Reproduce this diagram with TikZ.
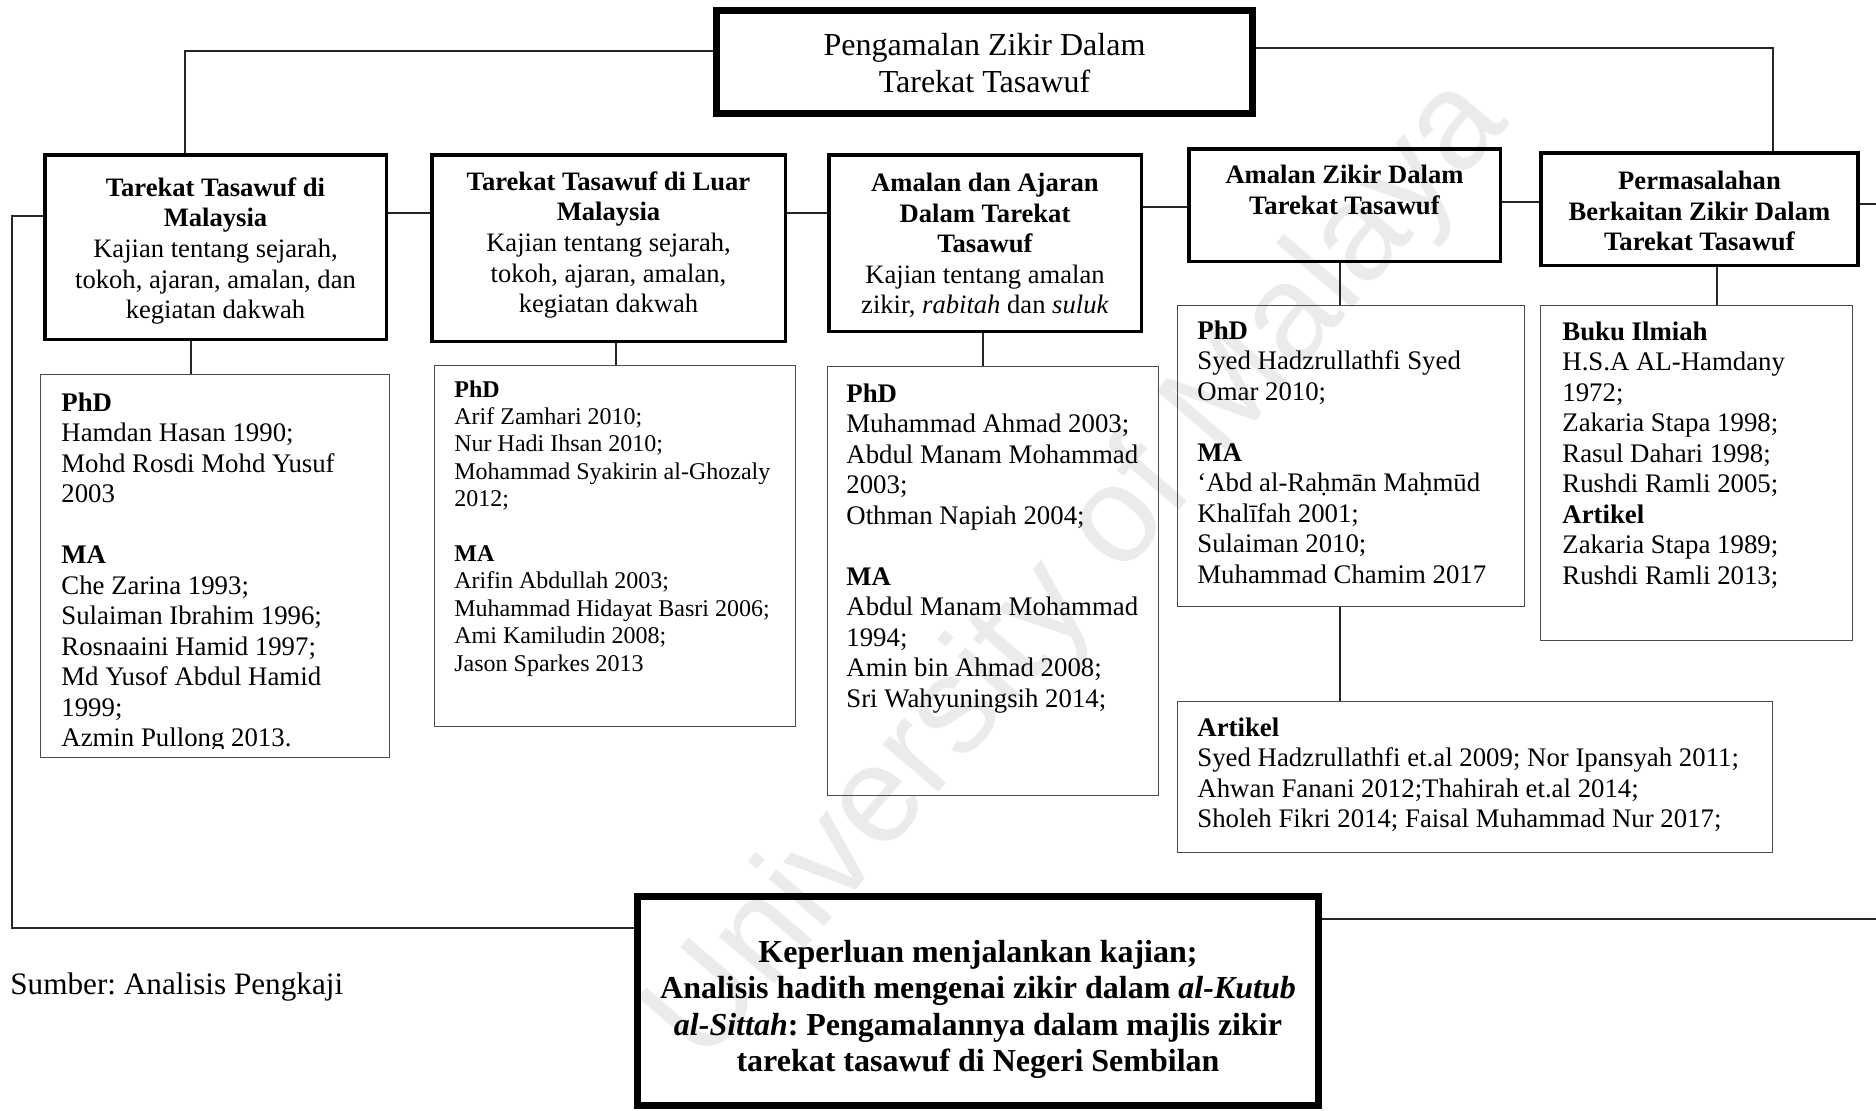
\documentclass[tikz,border=0pt]{standalone}
\usepackage{fontspec}
\setmainfont{Liberation Serif}
\newfontfamily\wmfont{Liberation Sans}
\frenchspacing
\begin{document}
\begin{tikzpicture}[x=0.5pt,y=-0.5pt,
  conn/.style={draw=black!85, line width=0.8pt},
  mainbox/.style={draw=black, line width=3.5pt, inner sep=0pt},
  lvlbox/.style={draw=black, line width=1.75pt, inner sep=0pt},
  lvltext/.style={align=center, inner sep=0pt, font=\fontsize{13.3}{15.3}\selectfont},
  refbox/.style={draw=black!70, line width=0.75pt, inner sep=0pt},
  reftext/.style={anchor=north west, align=left, inner sep=0pt,
    font=\fontsize{13.4}{15.25}\selectfont},
  smalltext/.style={reftext, font=\fontsize{12}{13.7}\selectfont},
  bigtext/.style={align=center, inner sep=0pt, font=\fontsize{16}{18.2}\selectfont}]
\useasboundingbox (0,0) rectangle (1876,1110);

% faint watermark lettering behind the chart
\node[font=\wmfont\fontsize{69}{69}\selectfont, text=black!8, rotate=49.5, inner sep=0pt]
  (wm) at (1080,572) {University of Malaya};

% title box
\node[mainbox, minimum width=268pt, minimum height=51.5pt] (tb) at (984.5,62) {};
\node[bigtext] (tbt) at (984.5,63) {Pengamalan Zikir Dalam\\Tarekat Tasawuf};

% second row of themes
\node[lvlbox, minimum width=170.75pt, minimum height=92.25pt] (b1) at (215.5,247) {};
\node[lvltext] (b1t) at (215.5,251)
  {\textbf{Tarekat Tasawuf di}\\\textbf{Malaysia}\\Kajian tentang sejarah,\\tokoh, ajaran, amalan, dan\\kegiatan dakwah};
\node[lvlbox, minimum width=176.75pt, minimum height=93.25pt] (b2) at (608.5,248) {};
\node[lvltext] (b2t) at (608.5,245)
  {\textbf{Tarekat Tasawuf di Luar}\\\textbf{Malaysia}\\Kajian tentang sejarah,\\tokoh, ajaran, amalan,\\kegiatan dakwah};
\node[lvlbox, minimum width=156.25pt, minimum height=88.25pt] (b3) at (985,243) {};
\node[lvltext] (b3t) at (985,245.5)
  {\textbf{Amalan dan Ajaran}\\\textbf{Dalam Tarekat}\\\textbf{Tasawuf}\\Kajian tentang amalan\\zikir, \textit{rabitah} dan \textit{suluk}};
\node[lvlbox, minimum width=155.75pt, minimum height=56.25pt] (b4) at (1344.5,205) {};
\node[lvltext] (b4t) at (1344.5,190)
  {\textbf{Amalan Zikir Dalam}\\\textbf{Tarekat Tasawuf}};
\node[lvlbox, minimum width=158.5pt, minimum height=56.25pt] (b5) at (1699.5,209) {};
\node[lvltext] (b5t) at (1699.5,211)
  {\textbf{Permasalahan}\\\textbf{Berkaitan Zikir Dalam}\\\textbf{Tarekat Tasawuf}};

% reference lists
\node[refbox, minimum width=174.5pt, minimum height=191.5pt] (c1) at (215,566) {};
\node[refbox, minimum width=180.5pt, minimum height=180.5pt] (c2) at (615,546) {};
\node[refbox, minimum width=165.5pt, minimum height=214.5pt] (c3) at (993,581) {};
\node[refbox, minimum width=173.5pt, minimum height=150.5pt] (c4) at (1351,456) {};
\node[refbox, minimum width=156pt, minimum height=167.5pt] (c5) at (1696.5,473) {};
\node[refbox, minimum width=297.5pt, minimum height=75.5pt] (c6) at (1475,777) {};

\begin{scope}
\clip (40,370) rectangle (390,748);
\node[reftext] (c1t) at (61,392)
  {\textbf{PhD}\\Hamdan Hasan 1990;\\Mohd Rosdi Mohd Yusuf\\2003\\[15.25pt]
   \textbf{MA}\\Che Zarina 1993;\\Sulaiman Ibrahim 1996;\\Rosnaaini Hamid 1997;\\Md Yusof Abdul Hamid\\1999;\\Azmin Pullong 2013.};
\end{scope}
\node[smalltext] (c2t) at (454,380)
  {\textbf{PhD}\\Arif Zamhari 2010;\\Nur Hadi Ihsan 2010;\\Mohammad Syakirin al-Ghozaly\\2012;\\[13.7pt]
   \textbf{MA}\\Arifin Abdullah 2003;\\Muhammad Hidayat Basri 2006;\\Ami Kamiludin 2008;\\Jason Sparkes 2013};
\node[reftext] (c3t) at (846,383)
  {\textbf{PhD}\\Muhammad Ahmad 2003;\\Abdul Manam Mohammad\\2003;\\Othman Napiah 2004;\\[15.25pt]
   \textbf{MA}\\Abdul Manam Mohammad\\1994;\\Amin bin Ahmad 2008;\\Sri Wahyuningsih 2014;};
\node[reftext] (c4t) at (1197,320)
  {\textbf{PhD}\\Syed Hadzrullathfi Syed\\Omar 2010;\\[15.25pt]
   \textbf{MA}\\‘Abd al-Raḥmān Maḥmūd\\Khalīfah 2001;\\Sulaiman 2010;\\Muhammad Chamim 2017};
\node[reftext] (c5t) at (1562,321)
  {\textbf{Buku Ilmiah}\\H.S.A AL-Hamdany\\1972;\\Zakaria Stapa 1998;\\Rasul Dahari 1998;\\Rushdi Ramli 2005;\\
   \textbf{Artikel}\\Zakaria Stapa 1989;\\Rushdi Ramli 2013;};
\node[reftext] (c6t) at (1197,717)
  {\textbf{Artikel}\\Syed Hadzrullathfi et.al 2009; Nor Ipansyah 2011;\\Ahwan Fanani 2012;Thahirah et.al 2014;\\Sholeh Fikri 2014; Faisal Muhammad Nur 2017;};

% conclusion box
\node[mainbox, minimum width=340.5pt, minimum height=104.5pt] (bb) at (978,1001) {};
\node[bigtext] (bbt) at (978,1009.5)
  {\textbf{Keperluan menjalankan kajian;}\\
   \textbf{Analisis hadith mengenai zikir dalam \textit{al-Kutub}}\\
   \textbf{\textit{al-Sittah}: Pengamalannya dalam majlis zikir}\\
   \textbf{tarekat tasawuf di Negeri Sembilan}};

\node[anchor=west, inner sep=0pt, font=\fontsize{15.6}{18}\selectfont] (src) at (10,987)
  {Sumber: Analisis Pengkaji};

% connector bends and free ends
\coordinate (kl) at (185,51);
\coordinate (kr) at (1773,48);
\coordinate (lt) at (12,216);
\coordinate (lb) at (12,928);
\coordinate (rb) at (1876,919);
\coordinate (re) at (1876,204);
\coordinate (h12) at (0,213);
\coordinate (h34) at (0,207);
\coordinate (h45) at (0,202);
\coordinate (x1) at (191,0);
\coordinate (x2) at (616,0);
\coordinate (x3) at (983,0);
\coordinate (x4) at (1340,0);
\coordinate (x5) at (1717,0);

\draw[conn] (tb.west |- kl) -| (b1.north -| kl);
\draw[conn] (tb.east |- kr) -| (b5.north -| kr);
\draw[conn] (b1.east |- h12) -- (b2.west |- h12);
\draw[conn] (b2.east |- h12) -- (b3.west |- h12);
\draw[conn] (b3.east |- h34) -- (b4.west |- h34);
\draw[conn] (b4.east |- h45) -- (b5.west |- h45);
\draw[conn] (b5.east |- re) -- (re);
\draw[conn] (b1.west |- lt) -- (lt) -- (lb) -- (bb.west |- lb);
\draw[conn] (bb.east |- rb) -- (rb);
\draw[conn] (b1.south -| x1) -- (c1.north -| x1);
\draw[conn] (b2.south -| x2) -- (c2.north -| x2);
\draw[conn] (b3.south -| x3) -- (c3.north -| x3);
\draw[conn] (b4.south -| x4) -- (c4.north -| x4);
\draw[conn] (b5.south -| x5) -- (c5.north -| x5);
\draw[conn] (c4.south -| x4) -- (c6.north -| x4);
\end{tikzpicture}
\end{document}
